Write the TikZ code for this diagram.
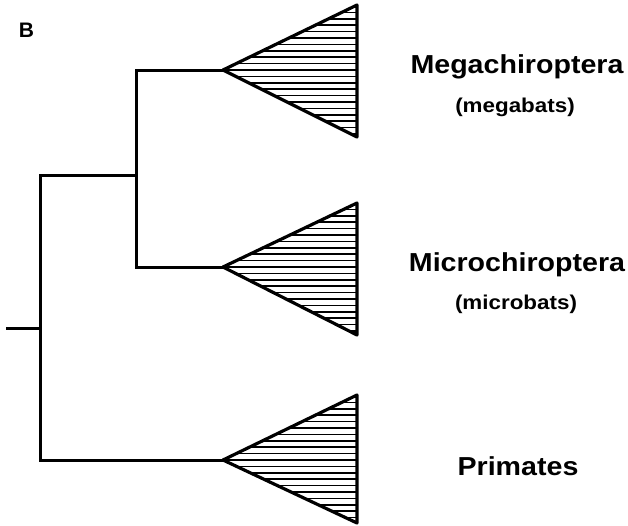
\documentclass[tikz,border=0pt]{standalone}
\usepackage{fontspec}
\setmainfont{Liberation Sans}
\begin{document}
\begin{tikzpicture}[x=1pt,y=-1pt,
  branch/.style={line width=3pt,line cap=rect},
  clade/.style={line width=3.2pt,line join=round},
  hatch/.style={line width=1.5pt},
  biglab/.style={font=\bfseries\fontsize{26}{29}\selectfont,anchor=base,xscale=1.1,inner sep=0pt},
  sublab/.style={font=\bfseries\fontsize{20}{23}\selectfont,anchor=base,xscale=1.12,inner sep=0pt}]
\useasboundingbox (0,0) rectangle (628,525);
% key points
\coordinate (root) at (7,328);
\coordinate (r1) at (40,328);
\coordinate (n1) at (40,175);
\coordinate (n2) at (136,175);
\coordinate (a1) at (223,70);
\coordinate (a2) at (223,267);
\coordinate (a3) at (223,460);
% tree
\draw[branch] (root) -- (r1);
\draw[branch] (n1) -- (a3 -| n1) -- (a3);
\draw[branch] (n1) -- (n2);
\draw[branch] (a1 -| n2) -- (a2 -| n2);
\draw[branch] (a1 -| n2) -- (a1);
\draw[branch] (a2 -| n2) -- (a2);
% clades
\foreach \ay/\tp/\bt in {70/5/137, 267/203/335, 460/395/523}{
  \begin{scope}
    \clip (223,\ay) -- (357,\tp) -- (357,\bt) -- cycle;
    \foreach \k in {-11,...,11}{
      \draw[hatch] (223,\ay+\k*6.4) -- (360,\ay+\k*6.4);
    }
  \end{scope}
  \draw[clade] (223,\ay) -- (357,\tp) -- (357,\bt) -- cycle;
}
% labels
\node[font=\bfseries\fontsize{21}{24}\selectfont,anchor=base,inner sep=0pt] (lb) at (26.5,37) {B};
\node[biglab] (mega) at (517,73) {Megachiroptera};
\node[sublab] (megas) at (515,112) {(megabats)};
\node[biglab] (micro) at (517,271) {Microchiroptera};
\node[sublab] (micros) at (516,309) {(microbats)};
\node[biglab] (prim) at (518,475) {Primates};
\end{tikzpicture}
\end{document}
